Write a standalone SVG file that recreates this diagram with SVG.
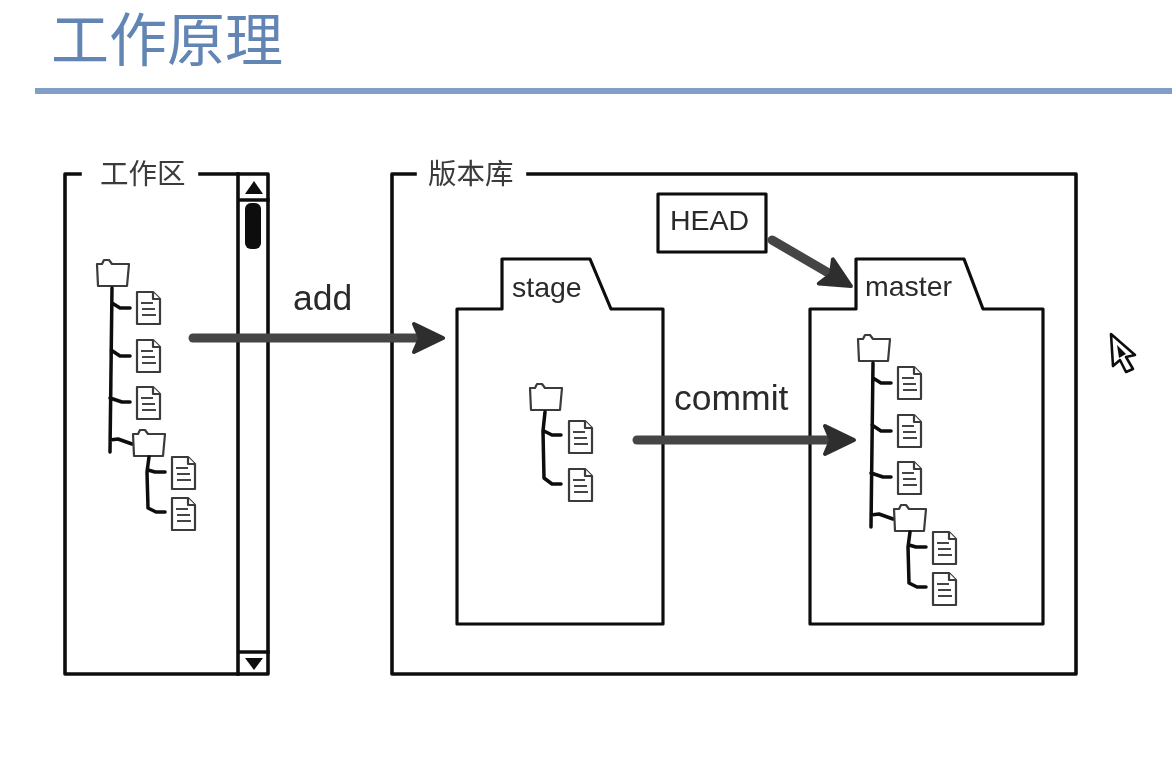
<svg xmlns="http://www.w3.org/2000/svg" xmlns:xlink="http://www.w3.org/1999/xlink" width="1172" height="780" viewBox="0 0 1172 780">
<style>
.s{fill:#fff;stroke:#0c0c0c;stroke-width:3.2;stroke-linejoin:round}
.n{fill:none;stroke:#0c0c0c;stroke-width:3.6;stroke-linejoin:round;stroke-linecap:square}
.t{fill:none;stroke:#0c0c0c;stroke-width:3.5;stroke-linecap:round;stroke-linejoin:round}
.c{fill:none;stroke:#444;stroke-width:9;stroke-linecap:round}
.ic{fill:#fff;stroke:#3a3a3a;stroke-width:2.2;stroke-linejoin:round}
.il{fill:none;stroke:#444;stroke-width:1.8}
text{font-family:"Liberation Sans","Noto Sans CJK SC",sans-serif;fill:#2a2a2a}
.z{font-size:28.5px;fill:#3a3a3a}
.l{font-size:35.5px}
.m{font-size:28.5px}
</style>
<defs>
<filter id="b" x="-5%" y="-5%" width="110%" height="110%"><feGaussianBlur stdDeviation="0.7"/></filter>
<marker id="h" viewBox="0 0 38 38" refX="26" refY="19" markerWidth="38" markerHeight="38" markerUnits="userSpaceOnUse" orient="auto"><path d="M34 19L5 5L11 19L5 33Z" fill="#2f2f2f" stroke="#2f2f2f" stroke-width="4" stroke-linejoin="round"/></marker>
<g id="doc"><path class="ic" d="M1 1H17L24 8V33H1Z"/><path class="ic" d="M17 1V8H24" fill="none"/><path class="il" d="M5 12H17M6 18H19M6 24H20"/></g>
<g id="fold"><path class="ic" d="M1 6H6L8 2H13L16 6H33L31 28H2Z"/></g>
<g id="tree">
<use xlink:href="#fold" x="0" y="0"/>
<path class="t" d="M16 30L14 194M16 45L24 50H34M15 92L24 98H34M14 140L26 144H34M14 182L22 181L36 186"/>
<use xlink:href="#doc" x="40" y="33"/>
<use xlink:href="#doc" x="40" y="81"/>
<use xlink:href="#doc" x="40" y="128"/>
<use xlink:href="#fold" x="36" y="170"/>
<path class="t" d="M53 199L51 214L52 250L60 254H69M52 212L59 214H69" stroke-width="3.8"/>
<use xlink:href="#doc" x="75" y="198"/>
<use xlink:href="#doc" x="75" y="239"/>
</g>
</defs>
<rect width="1172" height="780" fill="#fff"/>
<g id="title">
<text x="51" y="61" style="font-size:58px;fill:#6285b4">工作原理</text>
<rect x="35" y="88" width="1137" height="6" fill="#7f9fc4"/>
</g>
<g filter="url(#b)">
<g id="workspace">
<path class="n" d="M80 174H65V674H268V174H200"/>
<path class="n" d="M238 174V674M238 200H268M238 652H268" stroke-width="3.2"/>
<path d="M254 181L263 194H245Z" fill="#111"/>
<path d="M245 658H263L254 670Z" fill="#111"/>
<rect x="245" y="203" width="16" height="46" rx="6" fill="#0a0a0a"/>
<text class="z" x="100" y="184">工作区</text>
<use xlink:href="#tree" x="96" y="258"/>
</g>
<g id="repository">
<path class="n" d="M415 174H392V674H1076V174H528"/>
<text class="z" x="428" y="184">版本库</text>
</g>
<g id="stage">
<path class="s" d="M457 309H502V259H590L611 309H663V624H457Z"/>
<text class="m" x="512" y="297">stage</text>
<use xlink:href="#fold" x="529" y="382"/>
<path class="t" d="M545 412L543 431L544 478L552 484H561M544 431L552 435H561" stroke-width="3.8"/>
<use xlink:href="#doc" x="568" y="420"/>
<use xlink:href="#doc" x="568" y="468"/>
</g>
<g id="master">
<path class="s" d="M810 309H856V259H964L983 309H1043V624H810Z"/>
<text class="m" x="865" y="296">master</text>
<use xlink:href="#tree" x="857" y="333"/>
</g>
<g id="head">
<rect class="s" x="658" y="194" width="108" height="58"/>
<text x="670" y="230" font-size="28.5">HEAD</text>
</g>
<g id="connectors">
<path class="c" d="M193 338H435" marker-end="url(#h)"/>
<path class="c" d="M637 440H846" marker-end="url(#h)"/>
<path class="c" d="M772 240L844 282" marker-end="url(#h)"/>
</g>
<g id="labels">
<text class="l" x="293" y="310">add</text>
<text class="l" x="674" y="410">commit</text>
</g>
<g id="cursor">
<path d="M1111 334L1135 355L1126 357L1133 369L1126 372L1120 360L1113 366Z" fill="#fff" stroke="#111" stroke-width="2.6" stroke-linejoin="round"/>
<path d="M1117 345L1126 354L1119 358Z" fill="#111"/>
</g>
</g>
</svg>
